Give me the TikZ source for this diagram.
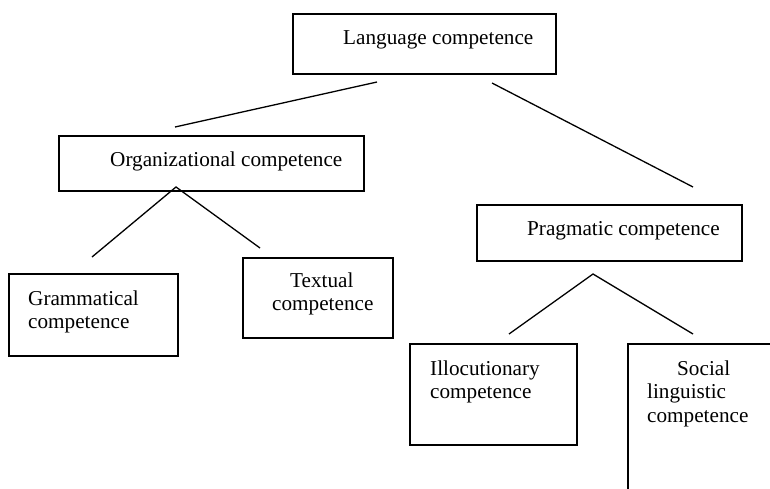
\documentclass[tikz,border=0pt]{standalone}
\usepackage{fontspec}
\setmainfont{Liberation Serif}
\begin{document}
\begin{tikzpicture}[x=1pt, y=-1pt,
  box/.style={draw, line width=1.6pt, rectangle, inner sep=0pt, anchor=north west},
  lbl/.style={inner sep=0pt, anchor=base west, font=\fontsize{21.2}{24}\selectfont},
  link/.style={line width=1.3pt}]
\useasboundingbox (0,0) rectangle (770,488);
\clip (0,0) rectangle (770,488);

% boxes
\node[box, minimum width=263pt, minimum height=60pt] (lang) at (292,13) {};
\node[box, minimum width=305pt, minimum height=55pt] (org) at (58,135) {};
\node[box, minimum width=265pt, minimum height=56pt] (prag) at (476,204) {};
\node[box, minimum width=169pt, minimum height=82pt] (gram) at (8,273) {};
\node[box, minimum width=150pt, minimum height=80pt] (text) at (242,257) {};
\node[box, minimum width=167pt, minimum height=101pt] (illo) at (409,343) {};
\node[box, minimum width=200pt, minimum height=200pt] (soc) at (627,343) {};

% labels
\node[lbl] (langT) at (343,44) {Language competence};
\node[lbl] (orgT) at (110,166) {Organizational competence};
\node[lbl] (pragT) at (527,235) {Pragmatic competence};
\node[lbl] (gramA) at (28,305) {Grammatical};
\node[lbl] (gramB) at (28,328) {competence};
\node[lbl] (textA) at (290,287) {Textual};
\node[lbl] (textB) at (272,310) {competence};
\node[lbl] (illoA) at (430,375) {Illocutionary};
\node[lbl] (illoB) at (430,398) {competence};
\node[lbl] (socA) at (677,375) {Social};
\node[lbl] (socB) at (647,398) {linguistic};
\node[lbl] (socC) at (647,422) {competence};

% free-standing connector ends
\coordinate (l1a) at (377,82);  \coordinate (l1b) at (175,127);
\coordinate (l2a) at (492,83);  \coordinate (l2b) at (693,187);
\coordinate (oTop) at (176,187); \coordinate (oL) at (92,257); \coordinate (oR) at (260,248);
\coordinate (pTop) at (593,274); \coordinate (pL) at (509,334); \coordinate (pR) at (693,334);

% connectors
\draw[link] (l1a) -- (l1b);
\draw[link] (l2a) -- (l2b);
\draw[link] (oL) -- (oTop) -- (oR);
\draw[link] (pL) -- (pTop) -- (pR);
\end{tikzpicture}
\end{document}
